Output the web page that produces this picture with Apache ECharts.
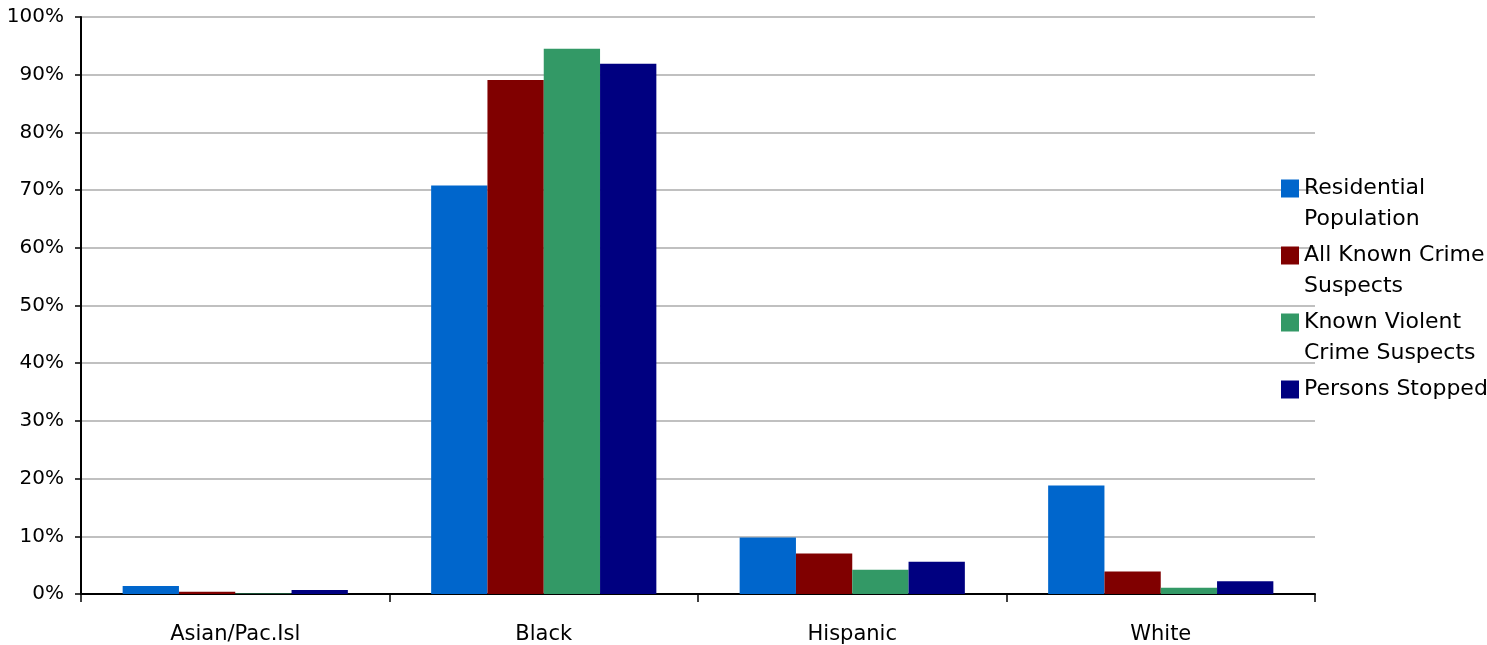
<!DOCTYPE html>
<html><head><meta charset="utf-8">
<script src="https://cdn.jsdelivr.net/npm/echarts@6/dist/echarts.min.js"></script>
<style>html,body{margin:0;padding:0;background:#fff}#c{width:1487px;height:645px}</style>
</head><body><div id="c"></div>
<script>
const categories = ['Asian/Pac.Isl', 'Black', 'Hispanic', 'White'];
const seriesNames = ['Residential Population', 'All Known Crime Suspects', 'Known Violent Crime Suspects', 'Persons Stopped'];
const legendLabels = ['Residential\nPopulation', 'All Known Crime\nSuspects', 'Known Violent\nCrime Suspects', 'Persons Stopped\n'];
const residential = [1.4, 70.8, 9.8, 18.8];
const allKnown = [0.4, 89.1, 7.0, 3.9];
const violent = [0.1, 94.5, 4.2, 1.1];
const stopped = [0.7, 91.9, 5.6, 2.2];
const colors = ['#0066CC', '#800000', '#339966', '#000080'];
const values = [residential, allKnown, violent, stopped];
const yTicks = [0, 100, 10];

const font = 'DejaVu Sans';
const chart = echarts.init(document.getElementById('c'));
chart.setOption({
  animation: false,
  grid: {left: 81, right: 172, top: 17, bottom: 51, containLabel: false},
  legend: {
    orient: 'vertical', left: 1276, top: 137,
    itemWidth: 18, itemHeight: 18, itemGap: -26,
    icon: 'rect',
    data: seriesNames.map(n => ({name: n})),
    formatter: name => '\n' + legendLabels[seriesNames.indexOf(name)],
    textStyle: {fontFamily: font, fontSize: 22, color: '#000', lineHeight: 31}
  },
  xAxis: {
    type: 'category', data: categories,
    axisLine: {lineStyle: {color: '#000', width: 2}},
    axisTick: {show: true, length: 8, interval: 0, lineStyle: {color: '#000', width: 1.5}},
    axisLabel: {fontFamily: font, fontSize: 21, color: '#000', margin: 30}
  },
  yAxis: {
    type: 'value', min: yTicks[0], max: yTicks[1], interval: yTicks[2],
    axisLine: {show: true, lineStyle: {color: '#000', width: 2}},
    axisTick: {show: true, length: 6, lineStyle: {color: '#000', width: 1.5}},
    axisLabel: {fontFamily: font, fontSize: 20, color: '#000', margin: 17, formatter: '{value}%'},
    splitLine: {lineStyle: {color: '#C0C0C0', width: 2}}
  },
  series: seriesNames.map((n, i) => ({
    name: n, type: 'bar', data: values[i],
    itemStyle: {color: colors[i]},
    barGap: '0%', barCategoryGap: '27%'
  }))
});
</script></body></html>
